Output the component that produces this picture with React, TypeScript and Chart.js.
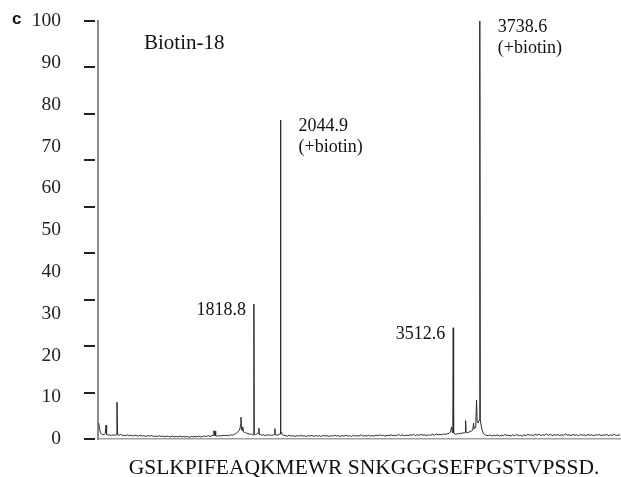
import { useEffect, useRef } from "react";
import { Chart, registerables } from "chart.js";

Chart.register(...registerables);

const SERIF = '"Liberation Serif", "Times New Roman", serif';

// m/z range of the spectrum axis
const MZ_MIN = 494;
const MZ_MAX = 4930;

// Y axis (relative intensity, %)
const Y_MIN = 0;
const Y_MAX = 100;
const Y_STEP = 10;
const TICK_MARK_COUNT = 10;

const PANEL_LETTER = "c";
const PANEL_TITLE = "Biotin-18";
const SEQUENCE = "GSLKPIFEAQKMEWR SNKGGGSEFPGSTVPSSD.";

// labelled peaks
const PEAK_MZ = [1818.8, 2044.9, 3512.6, 3738.6];
const PEAK_LABELS = ["1818.8", "2044.9", "3512.6", "3738.6"];
const PEAK_NOTES = ["", "(+biotin)", "", "(+biotin)"];

// spectrum: [m/z, relative intensity]
const SPECTRUM: [number, number][] = [
  [500, 3.8], [506, 2.6], [514, 1.6], [524, 1.2], [536, 1.0], [548, 1.1], [556, 1.3], [562, 3.3],
  [567, 1.1], [580, 0.9], [594, 1.0], [608, 0.8], [622, 1.0], [636, 0.9], [648, 1.0], [655, 8.8],
  [661, 1.0], [674, 0.9], [688, 1.1], [702, 0.8], [716, 0.9], [731, 0.8], [746, 1.0], [760, 0.8],
  [775, 0.9], [790, 0.7], [806, 0.9], [822, 0.8], [838, 0.7], [854, 0.9], [870, 0.7], [886, 0.8],
  [902, 0.6], [918, 0.8], [934, 0.7], [950, 0.8], [966, 0.6], [982, 0.7], [998, 0.6], [1014, 0.8],
  [1030, 0.6], [1046, 0.7], [1062, 0.5], [1078, 0.7], [1094, 0.6], [1110, 0.5], [1126, 0.7], [1142, 0.5],
  [1158, 0.6], [1174, 0.5], [1190, 0.7], [1206, 0.5], [1222, 0.6], [1238, 0.5], [1254, 0.6], [1270, 0.4],
  [1286, 0.6], [1302, 0.5], [1318, 0.6], [1334, 0.5], [1350, 0.7], [1366, 0.5], [1382, 0.6], [1398, 0.7],
  [1414, 0.6], [1430, 0.8], [1446, 0.6], [1462, 0.8], [1474, 0.9], [1479, 2.0], [1484, 0.8], [1489, 1.9],
  [1494, 0.8], [1508, 0.7], [1524, 0.8], [1540, 0.7], [1556, 0.9], [1572, 0.8], [1588, 0.9], [1604, 0.8],
  [1620, 1.0], [1636, 0.9], [1652, 1.1], [1666, 1.3], [1680, 1.6], [1692, 2.0], [1700, 2.4], [1706, 3.5],
  [1709, 5.2], [1713, 2.4], [1718, 2.0], [1722, 2.2], [1726, 2.9], [1730, 1.7], [1738, 1.5], [1748, 1.6],
  [1758, 1.3], [1768, 1.4], [1778, 1.2], [1788, 1.1], [1798, 1.2], [1808, 1.0], [1815, 1.0], [1818.8, 32.3],
  [1822, 1.1], [1832, 1.0], [1842, 1.2], [1852, 1.4], [1858, 1.3], [1861, 2.6], [1865, 1.0], [1876, 1.1],
  [1888, 0.9], [1900, 1.0], [1914, 0.8], [1928, 1.0], [1942, 0.9], [1956, 1.0], [1970, 0.8], [1984, 1.0],
  [1994, 1.1], [1997, 2.5], [2001, 1.0], [2012, 0.9], [2024, 1.0], [2034, 1.1], [2041, 1.2], [2044.9, 76.3],
  [2048, 1.3], [2054, 1.6], [2060, 1.0], [2072, 0.9], [2088, 0.8], [2104, 0.7], [2120, 0.9], [2136, 0.7],
  [2152, 0.8], [2168, 0.6], [2184, 0.8], [2200, 0.7], [2216, 0.9], [2232, 0.7], [2248, 0.8], [2264, 0.6],
  [2280, 0.8], [2296, 0.7], [2312, 0.9], [2328, 0.6], [2344, 0.8], [2360, 0.7], [2376, 0.8], [2392, 0.6],
  [2408, 0.9], [2424, 0.7], [2440, 0.8], [2456, 0.6], [2472, 0.8], [2488, 0.7], [2504, 0.9], [2520, 0.7],
  [2536, 0.8], [2552, 0.6], [2568, 0.8], [2584, 0.7], [2600, 0.9], [2616, 0.7], [2632, 0.8], [2648, 0.6],
  [2664, 0.9], [2680, 0.7], [2696, 0.8], [2712, 0.7], [2728, 1.0], [2744, 0.7], [2760, 0.8], [2776, 0.7],
  [2792, 0.9], [2808, 0.7], [2824, 0.8], [2840, 0.7], [2856, 0.9], [2872, 0.8], [2888, 1.0], [2904, 0.8],
  [2920, 0.9], [2936, 0.7], [2952, 0.9], [2968, 0.8], [2984, 1.0], [3000, 0.8], [3016, 0.9], [3032, 0.8],
  [3048, 1.1], [3064, 0.8], [3080, 1.0], [3096, 0.8], [3112, 0.9], [3128, 0.8], [3144, 1.0], [3160, 0.9],
  [3176, 1.1], [3192, 0.8], [3208, 1.0], [3224, 0.9], [3240, 1.1], [3256, 0.9], [3272, 1.0], [3288, 0.8],
  [3304, 1.0], [3320, 0.9], [3336, 1.1], [3352, 0.9], [3368, 1.2], [3384, 1.0], [3400, 1.1], [3414, 1.0],
  [3428, 1.2], [3442, 1.1], [3456, 1.2], [3468, 1.3], [3480, 1.4], [3490, 1.7], [3498, 2.9], [3504, 1.8],
  [3509, 1.5], [3512.6, 26.6], [3516, 1.5], [3524, 1.2], [3536, 1.1], [3548, 1.3], [3560, 1.2], [3572, 1.4],
  [3584, 1.3], [3596, 1.5], [3606, 1.4], [3614, 1.6], [3618, 4.4], [3622, 1.6], [3632, 1.5], [3644, 1.6],
  [3656, 1.8], [3668, 1.9], [3678, 2.1], [3686, 3.8], [3690, 2.4], [3698, 2.8], [3705, 4.0], [3711, 9.3],
  [3716, 4.2], [3724, 3.8], [3732, 4.5], [3738.6, 100], [3743, 4.6], [3750, 3.2], [3758, 2.2], [3768, 1.4],
  [3780, 1.0], [3794, 0.9], [3810, 0.8], [3826, 1.0], [3842, 0.7], [3858, 0.9], [3874, 0.8], [3890, 1.0],
  [3906, 0.7], [3922, 0.9], [3938, 0.8], [3954, 1.1], [3970, 0.8], [3986, 0.9], [4002, 0.7], [4018, 1.0],
  [4034, 0.8], [4050, 1.1], [4066, 0.8], [4082, 0.9], [4098, 0.7], [4114, 1.0], [4130, 0.8], [4146, 1.1],
  [4162, 0.9], [4178, 1.0], [4194, 0.8], [4210, 1.1], [4226, 0.9], [4242, 1.2], [4258, 0.8], [4274, 1.0],
  [4290, 0.9], [4306, 1.2], [4322, 0.9], [4338, 1.1], [4354, 0.8], [4370, 1.0], [4386, 0.9], [4402, 1.1],
  [4418, 0.8], [4434, 1.0], [4450, 0.9], [4466, 1.2], [4482, 0.9], [4498, 1.0], [4514, 0.8], [4530, 1.1],
  [4546, 0.9], [4562, 1.0], [4578, 0.8], [4594, 1.1], [4610, 0.9], [4626, 1.0], [4642, 0.8], [4658, 1.1],
  [4674, 0.9], [4690, 1.0], [4706, 0.8], [4722, 1.0], [4738, 0.9], [4754, 1.1], [4770, 0.8], [4786, 1.0],
  [4802, 0.9], [4818, 1.1], [4834, 0.8], [4850, 1.0], [4866, 0.9], [4882, 1.1], [4898, 0.8], [4914, 1.0],
  [4930, 0.9],
];

export default function App() {
  const ref = useRef<HTMLCanvasElement>(null);

  useEffect(() => {
    const canvas = ref.current;
    if (!canvas) return;

    const decor = {
      id: "decor",
      afterDraw(chart: any) {
        const ctx = chart.ctx as CanvasRenderingContext2D;
        const { left, top, bottom } = chart.chartArea;
        const xs = chart.scales.x;
        const ys = chart.scales.y;
        ctx.save();

        // separate tick dashes on the left of the axis
        ctx.fillStyle = "#222";
        for (let i = 0; i < TICK_MARK_COUNT; i++) {
          const y = top + ((bottom - top) * i) / (TICK_MARK_COUNT - 1);
          ctx.fillRect(left - 14, Math.round(y) - 1, 11, 2);
        }

        // panel letter
        ctx.fillStyle = "#111";
        ctx.font = 'bold 17px "Liberation Sans", Arial, sans-serif';
        ctx.textAlign = "left";
        ctx.textBaseline = "alphabetic";
        ctx.fillText(PANEL_LETTER, 12, 24);

        // panel title
        ctx.font = `21px ${SERIF}`;
        ctx.fillText(PANEL_TITLE, 144, 49);

        // sequence
        ctx.font = `21.5px ${SERIF}`;
        ctx.textAlign = "center";
        ctx.fillText(SEQUENCE, 364, 474);

        // peak annotations
        ctx.font = `18px ${SERIF}`;
        ctx.textBaseline = "middle";
        PEAK_MZ.forEach((mz, i) => {
          const pt = SPECTRUM.find((p) => p[0] === mz);
          const val = pt ? pt[1] : 0;
          const px = xs.getPixelForValue(mz);
          const py = ys.getPixelForValue(val);
          if (PEAK_NOTES[i]) {
            ctx.textAlign = "left";
            ctx.fillText(PEAK_LABELS[i], px + 18, py + 6);
            ctx.fillText(PEAK_NOTES[i], px + 18, py + 27);
          } else {
            ctx.textAlign = "right";
            ctx.fillText(PEAK_LABELS[i], px - 8, py + 6);
          }
        });
        ctx.restore();
      },
    };

    const chart = new Chart(canvas, {
      type: "line",
      data: {
        datasets: [
          {
            data: SPECTRUM.map(([x, y]) => ({ x, y })),
            borderColor: "#2a2a2a",
            borderWidth: 1,
            pointRadius: 0,
            tension: 0,
            fill: false,
            clip: 3,
          } as any,
        ],
      },
      options: {
        animation: false,
        responsive: false,
        devicePixelRatio: 1,
        events: [],
        layout: { padding: { left: 0, right: 1, top: 21, bottom: 38 } },
        plugins: { legend: { display: false }, tooltip: { enabled: false } },
        scales: {
          x: {
            type: "linear",
            min: MZ_MIN,
            max: MZ_MAX,
            ticks: { display: false },
            grid: { display: false, drawTicks: false },
            border: { display: true, color: "#a0a0a0", width: 1.5 },
            afterFit: (s: any) => {
              s.height = 0;
              s.paddingLeft = 0;
              s.paddingRight = 0;
            },
          },
          y: {
            min: Y_MIN,
            max: Y_MAX,
            ticks: {
              stepSize: Y_STEP,
              padding: 37,
              color: "#222",
              font: { family: SERIF, size: 19.5 },
            },
            grid: { display: false, drawTicks: false },
            border: { display: true, color: "#8a8a8a", width: 2 },
            afterFit: (s: any) => {
              s.width = 98;
              s.paddingTop = 0;
              s.paddingBottom = 0;
            },
          },
        },
      },
      plugins: [decor],
    });

    return () => chart.destroy();
  }, []);

  return (
    <canvas
      ref={ref}
      width={621}
      height={477}
      style={{ position: "fixed", left: 0, top: 0, width: 621, height: 477, background: "#fff" }}
    />
  );
}
